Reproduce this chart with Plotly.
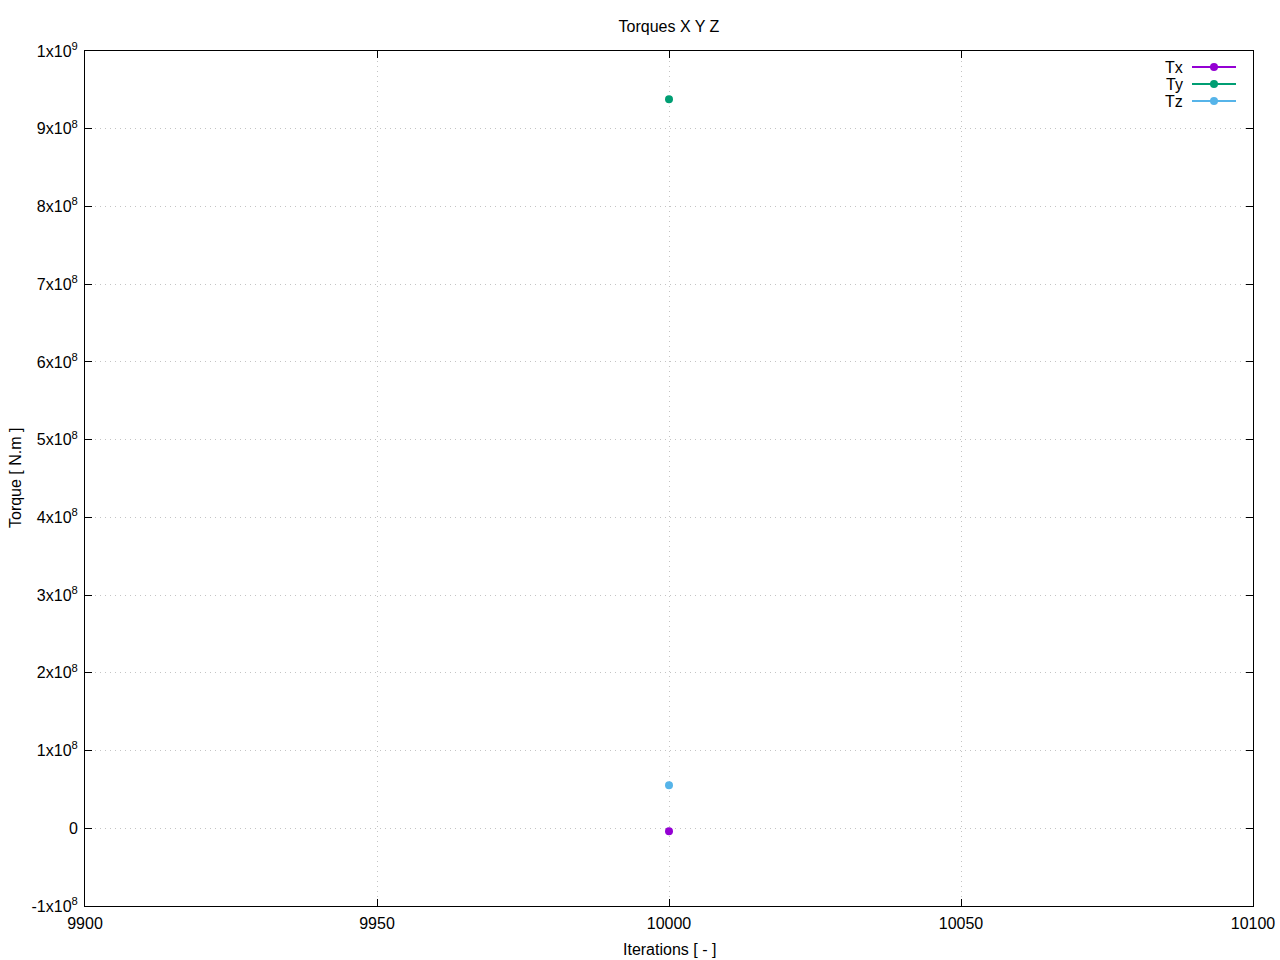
import plotly.graph_objects as go

iterations = [10000]
tx = [-3.9e6]
ty = [9.378e8]
tz = [5.53e7]

series_names = ["Tx", "Ty", "Tz"]
series_values = [tx, ty, tz]
colors = ["#9400D3", "#009E73", "#56B4E9"]

x_ticks = [9900, 9950, 10000, 10050, 10100]
y_ticks = [-1e8, 0, 1e8, 2e8, 3e8, 4e8, 5e8, 6e8, 7e8, 8e8, 9e8, 1e9]
y_ticktext = ["-1x10<sup>8</sup>", "0", "1x10<sup>8</sup>", "2x10<sup>8</sup>", "3x10<sup>8</sup>",
              "4x10<sup>8</sup>", "5x10<sup>8</sup>", "6x10<sup>8</sup>", "7x10<sup>8</sup>",
              "8x10<sup>8</sup>", "9x10<sup>8</sup>", "1x10<sup>9</sup>"]

FONT = "Liberation Sans, Arial, sans-serif"
FS = 16

W, H = 1280, 960
L, R, T, B = 85, 1253, 51, 906  # target plot box in page pixels
ml, mt = L, T
mr, mb = W - R, H - B
pw, ph = R - L, B - T

def px(xp):
    return (xp - L) / pw

def py(yp):
    return 1 - (yp - T) / ph

fig = go.Figure()
for name, vals, c in zip(series_names, series_values, colors):
    fig.add_trace(go.Scatter(x=iterations, y=vals, name=name, mode="lines+markers",
                             line=dict(color=c, width=2), marker=dict(color=c, size=8),
                             showlegend=False))

# manual legend (gnuplot style: text left, sample right)
for i, (name, c) in enumerate(zip(series_names, colors)):
    yy = 67 + 17 * i
    fig.add_shape(type="line", xref="paper", yref="paper", x0=px(1192), x1=px(1236),
                  y0=py(yy), y1=py(yy), line=dict(color=c, width=2))
    fig.add_shape(type="circle", xref="paper", yref="paper", xsizemode="pixel", ysizemode="pixel",
                  xanchor=px(1214), yanchor=py(yy), x0=-4, x1=4, y0=-4, y1=4,
                  fillcolor=c, line=dict(color=c, width=0))
    fig.add_annotation(text=name, xref="paper", yref="paper", x=px(1185), y=py(yy),
                       xanchor="right", yanchor="middle", showarrow=False,
                       font=dict(family=FONT, size=FS, color="black"))

# axis titles
fig.add_annotation(text="Iterations [ - ]", xref="paper", yref="paper", x=px(669), y=py(949),
                   xanchor="center", yanchor="middle", showarrow=False,
                   font=dict(family=FONT, size=FS, color="black"))
fig.add_annotation(text="Torque [ N.m ]", xref="paper", yref="paper", x=px(15), y=py(478),
                   xanchor="center", yanchor="middle", showarrow=False, textangle=-90,
                   font=dict(family=FONT, size=FS, color="black"))

axis_common = dict(showline=True, linecolor="black", linewidth=1, mirror="allticks",
                   ticks="inside", ticklen=7, tickcolor="black", showgrid=True,
                   gridcolor="#c4c4c4", griddash="1px,4px", gridwidth=1, zeroline=False,
                   automargin=False,
                   tickfont=dict(family=FONT, size=FS, color="black"))

fig.update_layout(
    width=W, height=H,
    margin=dict(l=ml, r=mr, t=mt, b=mb, autoexpand=False),
    plot_bgcolor="white", paper_bgcolor="white",
    title=dict(text="Torques X Y Z", x=669 / W, xanchor="center",
               y=1 - 26 / H, yanchor="middle",
               font=dict(family=FONT, size=FS, color="black")),
    xaxis=dict(range=[9900, 10100], tickvals=x_ticks, ticktext=[str(v) for v in x_ticks],
               ticklabelstandoff=3, **axis_common),
    yaxis=dict(range=[-1e8, 1e9], tickvals=y_ticks, ticktext=y_ticktext,
               ticklabelstandoff=3, **axis_common),
)

fig.write_html("out.html", config={"displayModeBar": False},
               post_script="document.body.style.margin='0';document.body.style.overflow='hidden';")
